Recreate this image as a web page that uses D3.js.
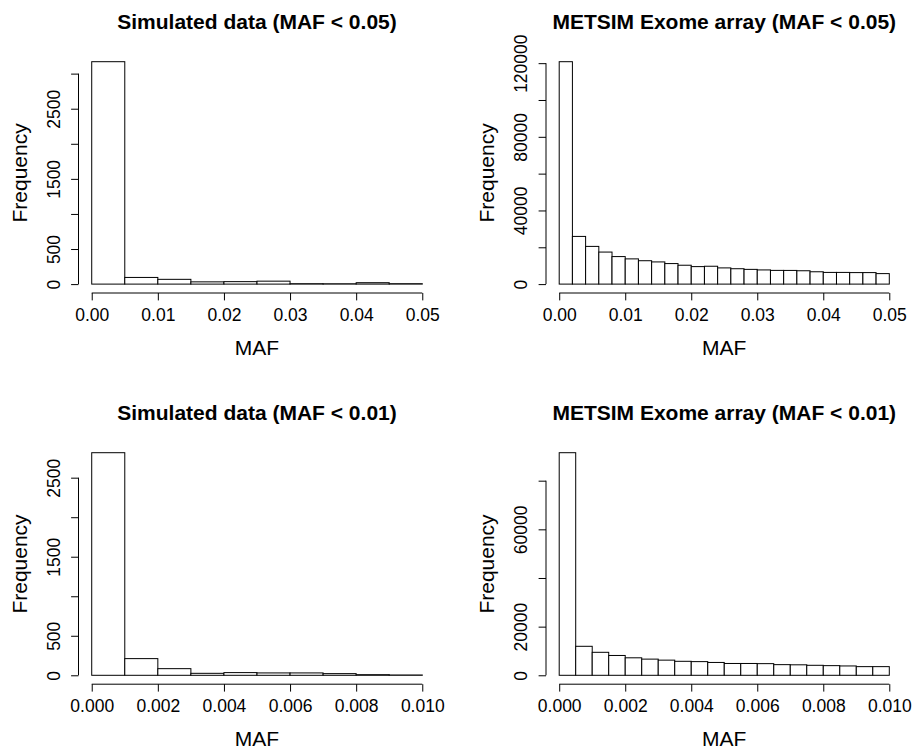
<!DOCTYPE html>
<html>
<head>
<meta charset="utf-8">
<script src="https://cdn.jsdelivr.net/npm/d3@7"></script>
<style>
  html, body { margin: 0; padding: 0; background: #fff; }
  svg { display: block; font-family: "Liberation Sans", Arial, Helvetica, sans-serif; }
</style>
</head>
<body>
<svg id="chart" width="915" height="753"></svg>
<script>
// Histogram counts per bin (bins start at 0 and are equally wide)
const simCounts05 = [3170, 95, 68, 32, 35, 42, 6, 5, 20, 6];
const metsimCounts05 = [120800, 25900, 20480, 17400, 14950, 13700, 12700, 12050, 11150, 10250,
                        9500, 9700, 8800, 8350, 8000, 7700, 7450, 7430, 7250, 6700,
                        6350, 6350, 6250, 6250, 5700];
const simCounts01 = [2816, 211, 84, 25, 34, 30, 30, 21, 8, 4];
const metsimCounts01 = [91500, 11920, 9450, 8150, 7190, 6650, 6230, 5750, 5620, 5280,
                        4860, 4860, 4790, 4380, 4310, 4110, 3970, 3840, 3560, 3560];

// MAF upper limits of each histogram
const mafLimits = [0.05, 0.05, 0.01, 0.01];

// Panel titles
const panelTitles = [
  "Simulated data (MAF < 0.05)",
  "METSIM Exome array (MAF < 0.05)",
  "Simulated data (MAF < 0.01)",
  "METSIM Exome array (MAF < 0.01)"
];

// Axis ticks and the tick labels that are printed (blank = tick only)
const xTicks05 = [0, 0.01, 0.02, 0.03, 0.04, 0.05];
const xLabels05 = ["0.00", "0.01", "0.02", "0.03", "0.04", "0.05"];
const xTicks01 = [0, 0.002, 0.004, 0.006, 0.008, 0.010];
const xLabels01 = ["0.000", "0.002", "0.004", "0.006", "0.008", "0.010"];

const yTicksSim05 = [0, 500, 1000, 1500, 2000, 2500, 3000];
const yLabelsSim05 = ["0", "500", "", "1500", "", "2500", ""];
const yTicksMet05 = [0, 20000, 40000, 60000, 80000, 100000, 120000];
const yLabelsMet05 = ["0", "", "40000", "", "80000", "", "120000"];
const yTicksSim01 = [0, 500, 1000, 1500, 2000, 2500];
const yLabelsSim01 = ["0", "500", "", "1500", "", "2500"];
const yTicksMet01 = [0, 20000, 40000, 60000, 80000];
const yLabelsMet01 = ["0", "20000", "", "60000", ""];

const xAxisTitle = "MAF";
const yAxisTitle = "Frequency";

// Plot regions of the 2 x 2 grid
const colLeft = [78.5, 546];
const colRight = [435.5, 902.5];
const rowTop = [52.8, 443.8];
const rowBottom = [293, 684.2];

const panels = [
  { counts: simCounts05, limit: mafLimits[0], title: panelTitles[0], xt: xTicks05, xl: xLabels05, yt: yTicksSim05, yl: yLabelsSim05, col: 0, row: 0 },
  { counts: metsimCounts05, limit: mafLimits[1], title: panelTitles[1], xt: xTicks05, xl: xLabels05, yt: yTicksMet05, yl: yLabelsMet05, col: 1, row: 0 },
  { counts: simCounts01, limit: mafLimits[2], title: panelTitles[2], xt: xTicks01, xl: xLabels01, yt: yTicksSim01, yl: yLabelsSim01, col: 0, row: 1 },
  { counts: metsimCounts01, limit: mafLimits[3], title: panelTitles[3], xt: xTicks01, xl: xLabels01, yt: yTicksMet01, yl: yLabelsMet01, col: 1, row: 1 }
];

const svg = d3.select("#chart");
svg.append("rect").attr("width", 915).attr("height", 753).attr("fill", "#fff");

const tickLen = 7.4;

panels.forEach(p => {
  const left = colLeft[p.col], right = colRight[p.col];
  const top = rowTop[p.row], bottom = rowBottom[p.row];
  const n = p.counts.length;
  const binW = p.limit / n;
  const maxC = d3.max(p.counts);

  // 4% padding on both ends of each axis
  const x = d3.scaleLinear()
    .domain([-0.04 * p.limit, 1.04 * p.limit])
    .range([left, right]);
  const y = d3.scaleLinear()
    .domain([-0.04 * maxC, 1.04 * maxC])
    .range([bottom, top]);

  const g = svg.append("g");

  // bars
  const bins = p.counts.map((c, i) => ({ x0: i * binW, x1: (i + 1) * binW, c }));
  g.selectAll("rect.bar")
    .data(bins)
    .join("rect")
    .attr("class", "bar")
    .attr("x", d => x(d.x0))
    .attr("width", d => x(d.x1) - x(d.x0))
    .attr("y", d => y(d.c))
    .attr("height", d => y(0) - y(d.c))
    .attr("fill", "#fff")
    .attr("stroke", "#000")
    .attr("stroke-width", 1);

  // x axis (line runs from first to last tick)
  const xAxis = d3.axisBottom(x)
    .tickValues(p.xt)
    .tickFormat((d, i) => p.xl[i])
    .tickSize(tickLen)
    .tickSizeOuter(0);
  const gx = g.append("g")
    .attr("transform", `translate(0,${bottom})`)
    .call(xAxis);
  gx.select(".domain")
    .attr("d", `M${x(p.xt[0])},0H${x(p.xt[p.xt.length - 1])}`)
    .attr("stroke", "#000");
  gx.selectAll(".tick line").attr("stroke", "#000");
  gx.selectAll(".tick text")
    .attr("y", 28.2)
    .attr("dy", 0)
    .attr("fill", "#000")
    .style("font-size", "17.5px")
    .style("font-family", "'Liberation Sans', Arial, sans-serif");

  // y axis with vertical tick labels
  const yAxis = d3.axisLeft(y)
    .tickValues(p.yt)
    .tickFormat((d, i) => p.yl[i])
    .tickSize(tickLen)
    .tickSizeOuter(0);
  const gy = g.append("g")
    .attr("transform", `translate(${left},0)`)
    .call(yAxis);
  gy.select(".domain")
    .attr("d", `M0,${y(p.yt[0])}V${y(p.yt[p.yt.length - 1])}`)
    .attr("stroke", "#000");
  gy.selectAll(".tick line").attr("stroke", "#000");
  gy.selectAll(".tick text")
    .attr("transform", "rotate(-90)")
    .attr("x", 0)
    .attr("y", -19)
    .attr("dy", 0)
    .attr("text-anchor", "middle")
    .attr("fill", "#000")
    .style("font-size", "17.5px")
    .style("font-family", "'Liberation Sans', Arial, sans-serif");

  // titles
  const cx = (left + right) / 2;
  const cy = (top + bottom) / 2;
  g.append("text")
    .attr("x", cx)
    .attr("y", top - 23.5)
    .attr("text-anchor", "middle")
    .style("font-size", "21px")
    .style("font-weight", "bold")
    .text(p.title);

  g.append("text")
    .attr("x", cx)
    .attr("y", bottom + 62)
    .attr("text-anchor", "middle")
    .style("font-size", "21px")
    .text(xAxisTitle);

  g.append("text")
    .attr("transform", `translate(${left - 51.9},${cy}) rotate(-90)`)
    .attr("text-anchor", "middle")
    .style("font-size", "21px")
    .text(yAxisTitle);
});
</script>
</body>
</html>
